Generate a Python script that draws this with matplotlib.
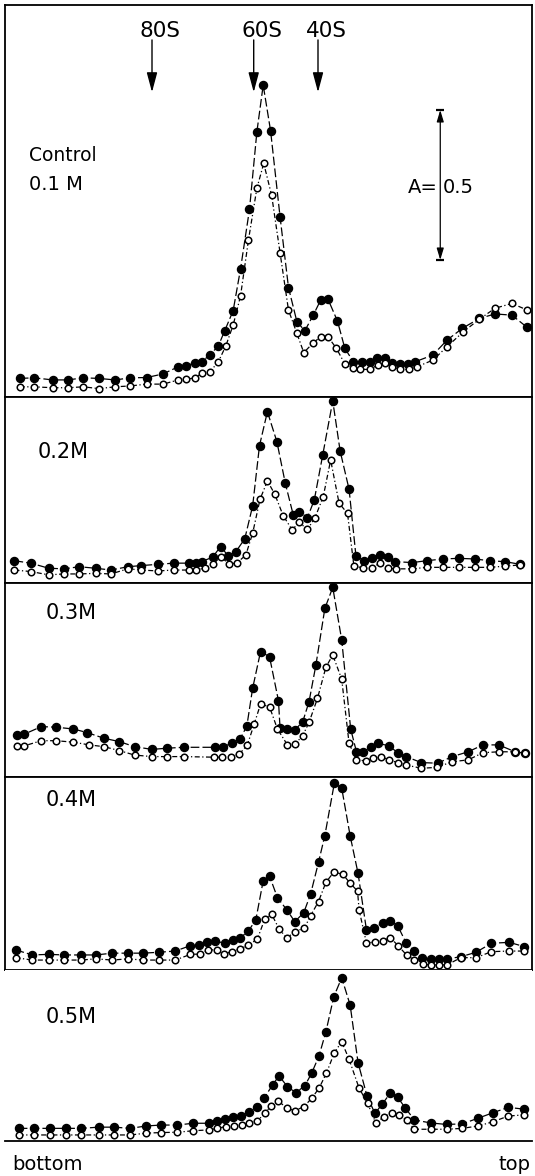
import matplotlib
matplotlib.use('Agg')
import matplotlib.pyplot as plt


# gradient position (% of gradient length, bottom -> top) and absorbance A
# closed circles / open circles for each KCl concentration

x_01_closed = [2.8, 5.5, 9.1, 11.9, 14.9, 17.8, 20.9, 23.8, 26.9, 30.0, 32.9, 34.3, 36.1, 37.3, 38.9,
               40.5, 41.7, 43.3, 44.7, 46.4, 47.8, 49.0, 50.4, 52.2, 53.8, 55.4, 56.9, 58.5, 59.9, 61.3,
               63.1, 64.5, 66.1, 67.7, 69.3, 70.6, 72.2, 73.5, 75.0, 76.4, 77.9, 81.2, 83.9, 86.8, 90.0,
               93.0, 96.2, 99.1]
a_01_closed = [0.062, 0.064, 0.057, 0.057, 0.064, 0.062, 0.057, 0.064, 0.065, 0.077, 0.101, 0.103, 0.115, 0.118, 0.14,
               0.171, 0.221, 0.288, 0.427, 0.626, 0.884, 1.04, 0.888, 0.601, 0.365, 0.251, 0.221, 0.273, 0.323, 0.326,
               0.253, 0.162, 0.118, 0.118, 0.118, 0.129, 0.129, 0.112, 0.109, 0.109, 0.118, 0.14, 0.19, 0.229, 0.262,
               0.277, 0.273, 0.232]
x_01_open = [2.8, 5.5, 9.1, 11.9, 14.9, 17.8, 20.9, 23.8, 26.9, 30.0, 32.9, 34.3, 36.1, 37.3, 38.9,
             40.5, 41.9, 43.3, 44.7, 46.2, 47.8, 49.1, 50.6, 52.2, 53.8, 55.4, 56.7, 58.4, 59.9, 61.3,
             62.9, 64.5, 66.0, 67.4, 69.2, 70.8, 72.2, 73.5, 75.0, 76.6, 78.2, 81.2, 83.9, 87.0, 90.0,
             93.0, 96.2, 99.1]
a_01_open = [0.034, 0.034, 0.031, 0.031, 0.034, 0.028, 0.034, 0.037, 0.043, 0.043, 0.057, 0.059, 0.064, 0.079, 0.084,
             0.118, 0.17, 0.24, 0.337, 0.523, 0.696, 0.779, 0.673, 0.481, 0.29, 0.212, 0.148, 0.179, 0.201, 0.201,
             0.162, 0.11, 0.096, 0.092, 0.092, 0.107, 0.112, 0.101, 0.092, 0.092, 0.101, 0.123, 0.168, 0.218, 0.259,
             0.296, 0.312, 0.29]

x_02_closed = [1.8, 4.9, 8.3, 11.2, 14.1, 17.2, 20.1, 23.3, 25.9, 29.0, 32.0, 35.0, 36.3, 37.3, 39.4,
               40.9, 42.4, 43.8, 45.5, 47.0, 48.3, 49.8, 51.6, 53.2, 54.7, 55.8, 57.4, 58.7, 60.3, 62.2,
               63.6, 65.3, 66.6, 68.1, 69.6, 71.1, 72.6, 74.0, 77.3, 80.0, 83.1, 86.1, 89.1, 92.0, 94.9, 97.8]
a_02_closed = [0.074, 0.066, 0.049, 0.047, 0.054, 0.049, 0.043, 0.054, 0.058, 0.062, 0.066, 0.066, 0.066, 0.071, 0.086,
               0.121, 0.09, 0.104, 0.147, 0.257, 0.458, 0.571, 0.471, 0.332, 0.227, 0.238, 0.218, 0.277, 0.427, 0.607,
               0.44, 0.312, 0.09, 0.074, 0.082, 0.093, 0.086, 0.071, 0.068, 0.074, 0.08, 0.082, 0.08, 0.074, 0.071, 0.062]
x_02_open = [1.8, 4.9, 8.3, 11.2, 14.1, 17.2, 20.1, 23.3, 25.9, 29.0, 32.0, 35.0, 36.3, 37.9, 39.5,
             40.9, 42.6, 44.1, 45.7, 47.0, 48.4, 49.8, 51.2, 52.8, 54.5, 55.8, 57.4, 58.8, 60.4, 61.8,
             63.4, 65.0, 66.2, 68.0, 69.6, 71.1, 72.6, 74.2, 77.3, 80.0, 83.1, 86.1, 89.1, 92.0, 94.9, 97.8]
a_02_open = [0.043, 0.038, 0.027, 0.03, 0.03, 0.032, 0.03, 0.047, 0.043, 0.04, 0.043, 0.043, 0.043, 0.05, 0.062,
             0.088, 0.062, 0.068, 0.093, 0.166, 0.279, 0.34, 0.296, 0.224, 0.177, 0.202, 0.179, 0.216, 0.288, 0.41,
             0.266, 0.232, 0.058, 0.049, 0.049, 0.066, 0.049, 0.047, 0.047, 0.052, 0.052, 0.052, 0.052, 0.052, 0.056, 0.06]

x_03_closed = [2.3, 3.7, 6.9, 9.7, 13.0, 15.6, 18.8, 21.7, 24.6, 27.9, 30.8, 33.9, 39.8, 41.4, 43.0,
               44.6, 45.9, 47.0, 48.5, 50.2, 51.9, 52.2, 53.6, 55.0, 56.5, 57.7, 59.0, 60.7, 62.2, 63.9,
               65.6, 66.7, 68.0, 69.4, 70.8, 72.9, 74.5, 76.1, 79.0, 82.1, 84.9, 87.9, 90.7, 93.7, 96.8, 98.7]
a_03_closed = [0.14, 0.143, 0.168, 0.166, 0.16, 0.148, 0.129, 0.118, 0.101, 0.092, 0.096, 0.099, 0.099, 0.101, 0.112,
               0.126, 0.17, 0.296, 0.418, 0.401, 0.254, 0.162, 0.16, 0.157, 0.184, 0.251, 0.373, 0.562, 0.632, 0.457,
               0.16, 0.084, 0.084, 0.099, 0.112, 0.104, 0.081, 0.068, 0.048, 0.046, 0.068, 0.084, 0.107, 0.107, 0.084, 0.079]
x_03_open = [2.3, 3.7, 6.9, 9.7, 13.0, 16.0, 18.8, 21.7, 24.6, 27.9, 30.8, 33.9, 39.7, 41.1, 42.8,
             44.5, 46.0, 47.3, 48.5, 50.2, 51.7, 53.6, 55.0, 56.5, 57.7, 59.3, 60.9, 62.2, 63.9, 65.3,
             66.7, 68.5, 69.9, 71.3, 72.9, 74.5, 76.1, 79.0, 81.9, 84.9, 87.9, 90.7, 93.7, 96.8, 98.7]
a_03_open = [0.104, 0.104, 0.121, 0.121, 0.116, 0.107, 0.101, 0.088, 0.073, 0.068, 0.068, 0.068, 0.066, 0.066, 0.066,
             0.077, 0.107, 0.177, 0.243, 0.234, 0.16, 0.107, 0.109, 0.138, 0.182, 0.262, 0.366, 0.407, 0.326, 0.112,
             0.057, 0.054, 0.062, 0.068, 0.057, 0.048, 0.04, 0.029, 0.032, 0.051, 0.057, 0.081, 0.084, 0.084, 0.079]

x_04_closed = [2.0, 5.2, 8.3, 11.2, 14.4, 17.2, 20.4, 23.3, 26.2, 29.2, 32.3, 35.2, 36.9, 38.4, 39.8,
               41.7, 43.2, 44.6, 46.2, 47.6, 49.0, 50.2, 51.7, 53.5, 55.0, 56.7, 58.0, 59.5, 60.7, 62.5,
               63.9, 65.5, 67.0, 68.6, 70.0, 71.7, 73.1, 74.5, 76.1, 77.7, 79.2, 80.8, 82.3, 83.9, 86.5,
               89.4, 92.3, 95.7, 98.5]
a_04_closed = [0.067, 0.05, 0.052, 0.05, 0.05, 0.05, 0.056, 0.056, 0.056, 0.059, 0.063, 0.081, 0.083, 0.094, 0.097,
               0.089, 0.1, 0.106, 0.13, 0.167, 0.297, 0.313, 0.241, 0.2, 0.161, 0.191, 0.253, 0.359, 0.448, 0.622,
               0.606, 0.447, 0.322, 0.133, 0.141, 0.156, 0.163, 0.148, 0.091, 0.063, 0.039, 0.037, 0.037, 0.037, 0.044,
               0.059, 0.089, 0.092, 0.078]
x_04_open = [2.0, 5.2, 8.3, 11.2, 14.4, 17.2, 20.4, 23.3, 26.2, 29.2, 32.3, 35.2, 37.0, 38.6, 40.2,
             41.6, 43.0, 44.6, 46.2, 47.9, 49.3, 50.6, 52.0, 53.5, 55.0, 56.8, 58.0, 59.5, 60.9, 62.4,
             64.1, 65.5, 66.9, 67.2, 68.6, 70.2, 71.7, 73.1, 74.6, 76.2, 77.7, 79.4, 80.8, 82.3, 83.9,
             86.5, 89.4, 92.3, 95.7, 98.5]
a_04_open = [0.041, 0.033, 0.033, 0.033, 0.033, 0.037, 0.033, 0.037, 0.033, 0.033, 0.033, 0.052, 0.053, 0.067, 0.067,
             0.053, 0.061, 0.07, 0.083, 0.103, 0.17, 0.186, 0.137, 0.106, 0.128, 0.139, 0.181, 0.228, 0.292, 0.326,
             0.319, 0.289, 0.263, 0.2, 0.089, 0.094, 0.097, 0.108, 0.081, 0.05, 0.033, 0.019, 0.017, 0.017, 0.017,
             0.041, 0.041, 0.061, 0.063, 0.063]

x_05_closed = [2.6, 5.5, 8.6, 11.5, 14.5, 17.8, 20.7, 23.8, 26.8, 29.6, 32.7, 35.7, 38.8, 40.2, 41.7,
               43.3, 44.8, 46.3, 47.9, 49.2, 50.8, 52.0, 53.6, 55.2, 56.9, 58.2, 59.6, 60.9, 62.4, 63.9,
               65.5, 67.0, 68.7, 70.2, 71.6, 73.1, 74.5, 76.0, 77.7, 80.8, 83.8, 86.8, 89.8, 92.6, 95.5, 98.5]
a_05_closed = [0.042, 0.042, 0.042, 0.042, 0.042, 0.046, 0.046, 0.042, 0.05, 0.053, 0.053, 0.059, 0.059, 0.068, 0.073,
               0.081, 0.084, 0.096, 0.114, 0.144, 0.187, 0.217, 0.181, 0.161, 0.184, 0.226, 0.284, 0.364, 0.481, 0.544,
               0.453, 0.261, 0.15, 0.092, 0.123, 0.159, 0.146, 0.109, 0.07, 0.06, 0.055, 0.057, 0.076, 0.094, 0.112, 0.106]
x_05_open = [2.6, 5.5, 8.6, 11.5, 14.5, 17.8, 20.7, 23.8, 26.8, 29.6, 32.7, 35.7, 38.8, 40.3, 41.9,
             43.5, 45.0, 46.4, 47.9, 49.3, 50.5, 51.9, 53.5, 55.0, 56.7, 58.2, 59.6, 61.0, 62.5, 63.9,
             65.3, 67.2, 68.8, 70.4, 71.9, 73.4, 74.8, 76.2, 77.7, 80.8, 83.8, 86.8, 89.8, 92.6, 95.5, 98.5]
a_05_open = [0.02, 0.02, 0.02, 0.02, 0.02, 0.02, 0.02, 0.02, 0.026, 0.028, 0.029, 0.034, 0.037, 0.042, 0.048,
             0.05, 0.053, 0.059, 0.067, 0.092, 0.117, 0.133, 0.109, 0.101, 0.114, 0.142, 0.176, 0.226, 0.294, 0.331,
             0.272, 0.176, 0.126, 0.059, 0.081, 0.092, 0.087, 0.07, 0.039, 0.039, 0.039, 0.042, 0.05, 0.064, 0.083, 0.087]

# sedimentation markers
marker_names = ['80S', '60S', '40S']
marker_pos = [27.9, 47.2, 59.4]


fig = plt.figure(figsize=(5.35, 11.76), dpi=100)

# (label, closed x, closed A, open x, open A, axes bottom, axes height, A range, label x, label y)
panels = [
    (None, x_01_closed, a_01_closed, x_01_open, a_01_open, 0.6624, 0.3333, 1.307, 0, 0),
    ('0.2M', x_02_closed, a_02_closed, x_02_open, a_02_open, 0.5043, 0.1581, 0.62, 6.2, 0.437),
    ('0.3M', x_03_closed, a_03_closed, x_03_open, a_03_open, 0.3393, 0.1650, 0.647, 7.8, 0.547),
    ('0.4M', x_04_closed, a_04_closed, x_04_open, a_04_open, 0.1752, 0.1641, 0.643, 7.8, 0.567),
    ('0.5M', x_05_closed, a_05_closed, x_05_open, a_05_open, 0.0298, 0.1454, 0.57, 7.8, 0.414),
]

axes = []
for label, xc, ac, xo, ao, bottom, height, top, lx, ly in panels:
    ax = fig.add_axes([0.0093, bottom, 0.985, height])
    ax.plot(xc, ac, color='black', lw=0.9, linestyle=(0, (7, 2.5)),
            marker='o', ms=5.8, mfc='black', mec='black', zorder=3)
    ax.plot(xo, ao, color='black', lw=0.9, linestyle=(0, (4, 2, 1, 2)),
            marker='o', ms=4.7, mfc='white', mec='black', mew=1.1, zorder=4)
    ax.set_xlim(0, 100)
    ax.set_ylim(0, top)
    ax.set_xticks([])
    ax.set_yticks([])
    for s in ax.spines.values():
        s.set_linewidth(1.3)
    if label:
        ax.text(lx, ly, label, fontsize=15, va='center', ha='left')
    axes.append(ax)

# control panel annotations
ax = axes[0]
ax.text(4.6, 0.807, 'Control', fontsize=13.5, va='center', ha='left')
ax.text(4.6, 0.71, '0.1 M', fontsize=14, va='center', ha='left')
for name, pos in zip(marker_names, marker_pos):
    ax.annotate('', xy=(pos, 1.007), xytext=(pos, 1.2),
                arrowprops=dict(arrowstyle='-|>,head_length=0.6,head_width=0.16',
                                mutation_scale=20, color='black', lw=1.0))
    ax.text(pos + 1.6, 1.222, name, fontsize=15.5, ha='center', va='center')

# A = 0.5 scale bar
ax.annotate('', xy=(82.6, 0.457), xytext=(82.6, 0.957),
            arrowprops=dict(arrowstyle='<|-|>,head_length=0.5,head_width=0.15',
                            mutation_scale=14, color='black', lw=0.9, shrinkA=0, shrinkB=0))
ax.hlines([0.457, 0.957], 81.8, 83.4, color='black', lw=1.6)
ax.text(82.2, 0.697, 'A=', fontsize=14, ha='right', va='center')
ax.text(83.0, 0.697, '0.5', fontsize=14, ha='left', va='center')

# last panel is only closed at the bottom
for side in ['right', 'top', 'left']:
    axes[4].spines[side].set_visible(False)

fig.text(0.022, 0.0102, 'bottom', fontsize=14, ha='left', va='center')
fig.text(0.931, 0.0102, 'top', fontsize=14, ha='left', va='center')

plt.savefig('out.png', dpi=100)
plt.close()
